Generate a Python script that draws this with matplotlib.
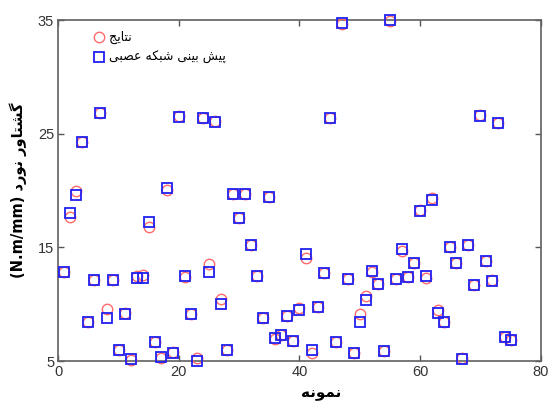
import matplotlib
matplotlib.use("Agg")
import matplotlib.pyplot as plt
from matplotlib.lines import Line2D

# ---------------- data ----------------
samples = list(range(1, 76))
actual = [12.84, 17.70, 19.98, 24.24, 8.45, 12.13, 26.82, 9.59, 12.13, 6.01,
          9.20, 5.09, 12.50, 12.61, 16.83, 6.64, 5.30, 20.07, 5.78, 26.52,
          12.40, 9.16, 5.23, 26.34, 13.56, 26.10, 10.49, 6.01, 19.72, 17.61,
          19.72, 15.20, 12.45, 8.77, 19.40, 6.90, 7.27, 8.94, 6.75, 9.70,
          14.05, 5.72, 9.77, 12.70, 26.36, 6.64, 34.65, 12.22, 5.69, 9.16,
          10.75, 12.85, 11.75, 5.92, 34.95, 12.22, 14.66, 12.39, 13.65, 18.28,
          12.33, 19.35, 9.48, 8.40, 15.03, 13.59, 5.23, 15.23, 11.72, 26.66,
          13.80, 12.10, 25.91, 7.13, 6.84]
predicted = [12.84, 17.98, 19.63, 24.24, 8.39, 12.13, 26.79, 8.77, 12.13, 6.01,
             9.16, 5.15, 12.33, 12.33, 17.23, 6.64, 5.37, 20.19, 5.72, 26.43,
             12.47, 9.16, 5.03, 26.34, 12.84, 26.06, 10.03, 6.01, 19.72, 17.61,
             19.72, 15.23, 12.50, 8.77, 19.43, 7.01, 7.27, 8.94, 6.75, 9.46,
             14.42, 5.95, 9.77, 12.76, 26.36, 6.64, 34.70, 12.22, 5.69, 8.39,
             10.41, 12.93, 11.75, 5.92, 35.00, 12.22, 14.85, 12.39, 13.65, 18.22,
             12.47, 19.20, 9.25, 8.45, 15.06, 13.59, 5.15, 15.23, 11.72, 26.57,
             13.77, 12.01, 25.91, 7.13, 6.84]
x_ticks = [0, 20, 40, 60, 80]
y_ticks = [5, 15, 25, 35]

label_actual = "نتایج"
label_pred = "پیش بینی شبکه عصبی"
x_label = "نمونه"
y_label_fa = "گشتاور نورد"
y_label_unit = "(N.m/mm)"

# ------------- minimal Persian shaping (matplotlib has no bidi) -------------
FORMS = {
    'ا': ('\uFE8D', '\uFE8E', None, None),
    'ب': ('\uFE8F', '\uFE90', '\uFE91', '\uFE92'),
    'پ': ('\uFB56', '\uFB57', '\uFB58', '\uFB59'),
    'ت': ('\uFE95', '\uFE96', '\uFE97', '\uFE98'),
    'ج': ('\uFE9D', '\uFE9E', '\uFE9F', '\uFEA0'),
    'د': ('\uFEA9', '\uFEAA', None, None),
    'ر': ('\uFEAD', '\uFEAE', None, None),
    'س': ('\uFEB1', '\uFEB2', '\uFEB3', '\uFEB4'),
    'ش': ('\uFEB5', '\uFEB6', '\uFEB7', '\uFEB8'),
    'ص': ('\uFEB9', '\uFEBA', '\uFEBB', '\uFEBC'),
    'ع': ('\uFEC9', '\uFECA', '\uFECB', '\uFECC'),
    'ک': ('\uFB8E', '\uFB8F', '\uFB90', '\uFB91'),
    'گ': ('\uFB92', '\uFB93', '\uFB94', '\uFB95'),
    'م': ('\uFEE1', '\uFEE2', '\uFEE3', '\uFEE4'),
    'ن': ('\uFEE5', '\uFEE6', '\uFEE7', '\uFEE8'),
    'ه': ('\uFEE9', '\uFEEA', '\uFEEB', '\uFEEC'),
    'و': ('\uFEED', '\uFEEE', None, None),
    'ی': ('\uFBFC', '\uFBFD', '\uFBFE', '\uFBFF'),
}


def shape_rtl(text):
    out = []
    n = len(text)
    for i, ch in enumerate(text):
        if ch not in FORMS:
            out.append(ch)
            continue
        f = FORMS[ch]
        prev = text[i - 1] if i > 0 else None
        nxt = text[i + 1] if i < n - 1 else None
        jp = prev in FORMS and FORMS[prev][2] is not None
        jn = f[2] is not None and nxt in FORMS
        if jp and jn:
            g = f[3]
        elif jp:
            g = f[1]
        elif jn:
            g = f[2]
        else:
            g = f[0]
        out.append(g)
    return ''.join(out)[::-1]


# ---------------- figure ----------------
plt.rcParams['font.family'] = ['Liberation Sans', 'DejaVu Sans']
fig = plt.figure(figsize=(5.54, 4.03), dpi=100)
ax = fig.add_axes([0.1052, 0.1042, 0.8708, 0.846])

red = '#ff6a6a'
blue = '#2020f0'
ax.plot(samples, actual, linestyle='none', marker='o', markersize=7.5,
        markerfacecolor='none', markeredgecolor=red, markeredgewidth=1.0,
        clip_on=False, zorder=3)
ax.plot(samples, predicted, linestyle='none', marker='s', markersize=7.2,
        markerfacecolor='none', markeredgecolor=blue, markeredgewidth=1.3,
        clip_on=False, zorder=4)

ax.set_xlim(0, 80)
ax.set_ylim(5, 35)
ax.set_xticks(x_ticks)
ax.set_yticks(y_ticks)
ax.tick_params(direction='in', top=True, right=True, length=4, width=1,
               color='#555555', labelsize=10.5, labelcolor='#333333', pad=3)
for s in ax.spines.values():
    s.set_color('#606060')
    s.set_linewidth(1.2)

h1 = Line2D([], [], linestyle='none', marker='o', markersize=7.5,
            markerfacecolor='none', markeredgecolor=red, markeredgewidth=1.0)
h2 = Line2D([], [], linestyle='none', marker='s', markersize=7.2,
            markerfacecolor='none', markeredgecolor=blue, markeredgewidth=1.3)
ax.legend([h1, h2], [shape_rtl(label_actual), shape_rtl(label_pred)],
          loc='upper left', bbox_to_anchor=(0.053, 0.993), frameon=False,
          prop={'family': 'DejaVu Sans', 'size': 9}, handletextpad=0.35,
          labelspacing=0.55, borderpad=0.2, handlelength=1.0)

ax.set_xlabel(shape_rtl(x_label), family='DejaVu Sans', fontweight='bold',
              fontsize=11)
ax.xaxis.set_label_coords(0.545, -0.073)
ax.set_ylabel(y_label_unit + ' ' + shape_rtl(y_label_fa), family='DejaVu Sans',
              fontweight='bold', fontsize=10.5, labelpad=8)

fig.savefig('out.png', dpi=100)
